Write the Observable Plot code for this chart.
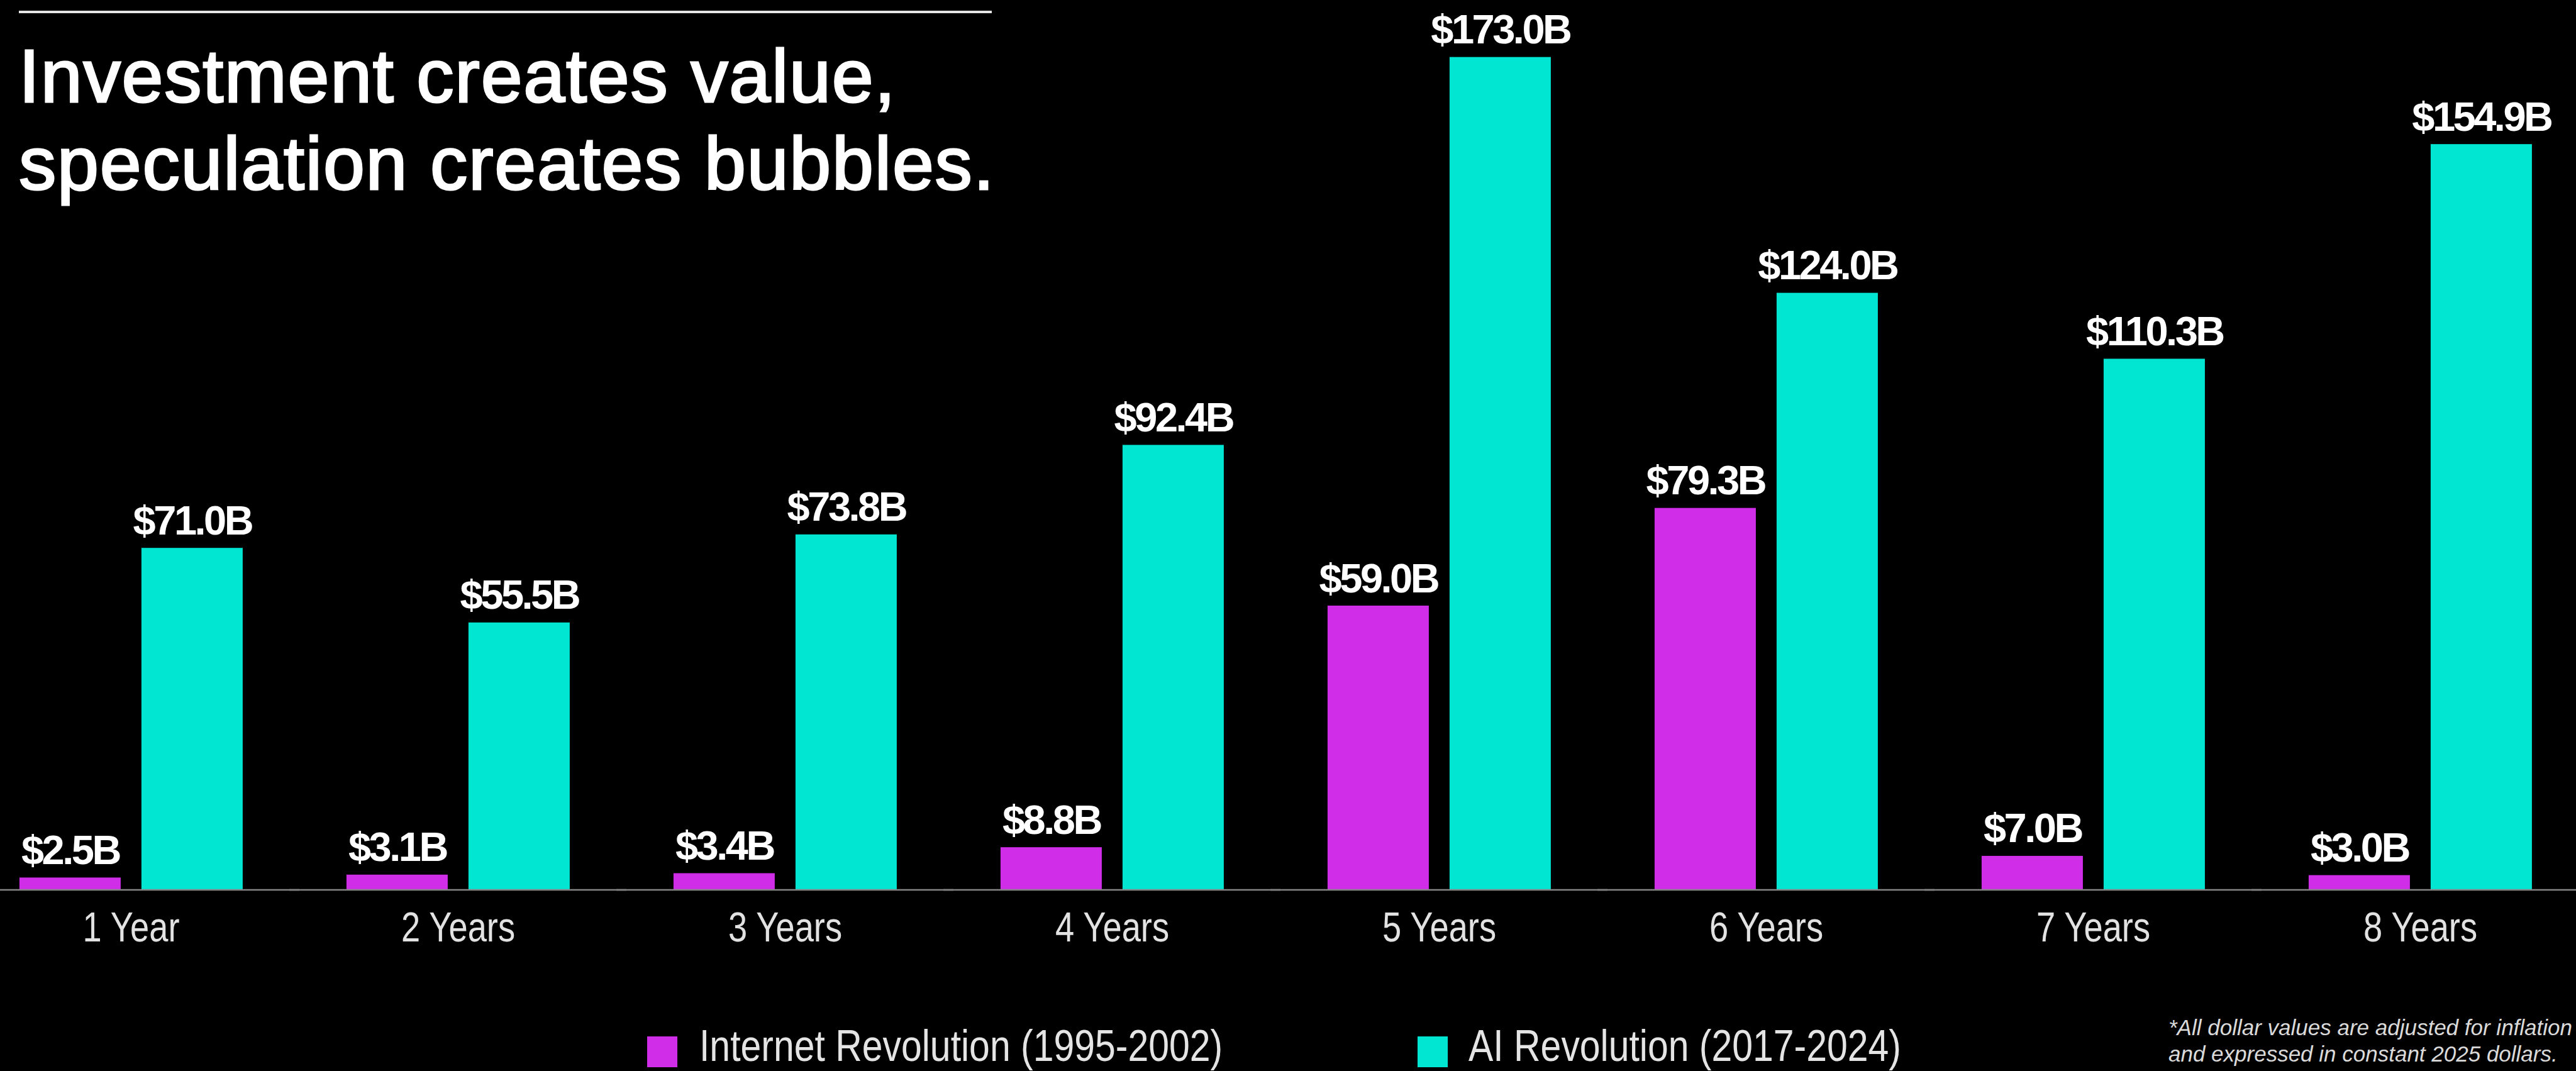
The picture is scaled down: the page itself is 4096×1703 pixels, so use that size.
<!DOCTYPE html>
<html>
<head>
<meta charset="utf-8">
<script src="https://cdn.jsdelivr.net/npm/d3@7"></script>
<script src="https://cdn.jsdelivr.net/npm/@observablehq/plot@0.6"></script>
<style>
  html, body { margin: 0; padding: 0; background: #000; overflow: hidden; }
  #root { position: relative; width: 4096px; height: 1703px; background: #000; overflow: hidden; }
  #topRule { position: absolute; left: 30px; top: 17.3px; width: 1547px; height: 3.8px; background: #e6e6e6; }
  #title { position: absolute; left: 30px; top: 52px; font-family: "Liberation Sans", Arial, Helvetica, sans-serif;
           font-size: 118.5px; line-height: 138.8px; color: #fff; -webkit-text-stroke: 3px #fff;
           letter-spacing: 1.8px; white-space: nowrap; }
  #chart { position: absolute; left: 0; top: 0; }
  .legend-swatch { position: absolute; top: 1648px; width: 48px; height: 49px; }
  .legend-label { position: absolute; top: 1627.4px; font-family: "Liberation Sans", Arial, sans-serif;
                  font-size: 71px; line-height: 71px; color: #e4e4e4; white-space: nowrap;
                  transform: scaleX(0.83); transform-origin: 0 50%; }
  #footnote { position: absolute; left: 3455.8px; top: 1612.7px; font-family: "Liberation Sans", Arial, sans-serif; font-style: italic;
              font-size: 35px; line-height: 42.4px; color: #dadada; white-space: nowrap; }
  #chart svg g[aria-label="text"] text { letter-spacing: -3.5px; }
</style>
</head>
<body>
<div id="root">
  <div id="topRule"></div>
  <div id="title"></div>
  <div id="chart"></div>
  <div id="footnote"></div>
</div>
<script>
// ---- Data ----
const titleLines = ["Investment creates value,", "speculation creates bubbles."];
const periods = ["1 Year", "2 Years", "3 Years", "4 Years", "5 Years", "6 Years", "7 Years", "8 Years"];
const seriesNames = ["Internet Revolution (1995-2002)", "AI Revolution (2017-2024)"];
const internetValues = [2.5, 3.1, 3.4, 8.8, 59.0, 79.3, 7.0, 3.0];
const aiValues = [71.0, 55.5, 73.8, 92.4, 173.0, 124.0, 110.3, 154.9];
const seriesColors = ["#CF2DE8", "#00E6D3"];
const footnoteLines = ["*All dollar values are adjusted for inflation", "and expressed in constant 2025 dollars."];

// ---- Build table ----
const data = periods.flatMap((p, i) => [
  {period: p, series: seriesNames[0], value: internetValues[i]},
  {period: p, series: seriesNames[1], value: aiValues[i]}
]);
const fmt = v => `$${v.toFixed(1)}B`;

const sans = '"Liberation Sans", Arial, Helvetica, sans-serif';

const chart = Plot.plot({
  width: 4096,
  height: 1703,
  marginTop: 37.1,
  marginBottom: 288.5,
  marginLeft: 28.1,
  marginRight: 69.4,
  style: {background: "transparent", color: "#fff", overflow: "visible"},
  fx: {domain: periods, paddingInner: 0.316, paddingOuter: 0, label: null},
  x: {domain: seriesNames, paddingInner: 0.17, paddingOuter: 0, axis: null},
  y: {domain: [0, 180], axis: null},
  color: {domain: seriesNames, range: seriesColors},
  marks: [
    Plot.barY(data, {fx: "period", x: "series", y: "value", fill: "series"}),
    Plot.ruleY([0], {stroke: "#858585", strokeWidth: 2.6, insetLeft: -90, insetRight: -90}),
    Plot.text(data, {
      fx: "period", x: "series", y: "value", text: d => fmt(d.value),
      lineAnchor: "bottom", dy: -22, fill: "#fff",
      fontSize: 65, fontWeight: "bold", fontFamily: sans
    }),
    Plot.axisFx({
      anchor: "bottom", tickSize: 0, tickPadding: 34, label: null,
      fontSize: 67, fontFamily: sans, fill: "#e2e2e2"
    })
  ]
});
document.getElementById("chart").appendChild(chart);

// condensed look for the period labels (Helvetica Condensed substitute)
chart.querySelectorAll('g[aria-label^="fx-axis"] text').forEach(t => {
  const w = t.getComputedTextLength();
  t.setAttribute("textLength", (w * 0.81).toFixed(1));
  t.setAttribute("lengthAdjust", "spacingAndGlyphs");
});

// ---- Title ----
const title = document.getElementById("title");
title.innerHTML = titleLines.map(t => `<div>${t}</div>`).join("");

// ---- Legend ----
const root = document.getElementById("root");
const legendSwatchLeft = [1029, 2254];
const legendLabelLeft = [1111.5, 2334.6];
seriesNames.forEach((name, i) => {
  const sw = document.createElement("div");
  sw.className = "legend-swatch";
  sw.style.left = legendSwatchLeft[i] + "px";
  sw.style.background = seriesColors[i];
  root.appendChild(sw);
  const lb = document.createElement("div");
  lb.className = "legend-label";
  lb.style.left = legendLabelLeft[i] + "px";
  lb.textContent = name;
  root.appendChild(lb);
});

// ---- Footnote ----
const foot = document.getElementById("footnote");
foot.innerHTML = footnoteLines.map(t => `<div>${t}</div>`).join("");
const fw = foot.getBoundingClientRect().width;
if (3455.8 + fw > 4090) foot.style.left = (4090 - fw) + "px";
</script>
</body>
</html>
